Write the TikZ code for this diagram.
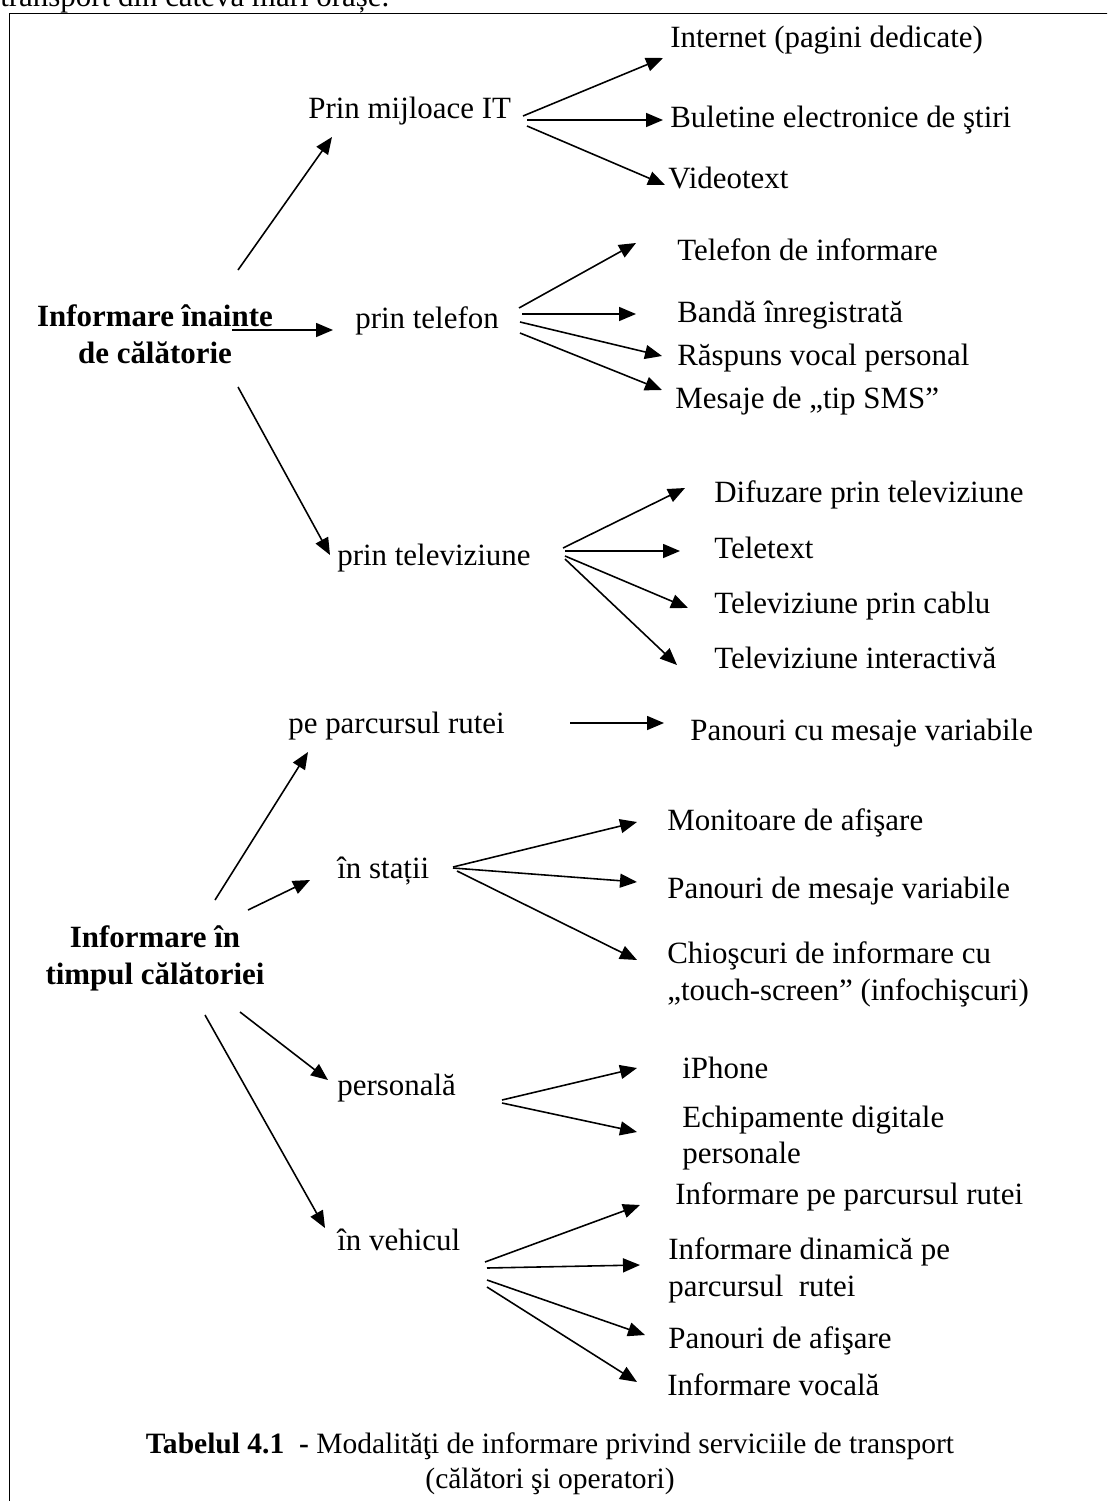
\documentclass[tikz,border=0pt]{standalone}
\usepackage{fontspec}
\setmainfont{Liberation Serif}
\usetikzlibrary{arrows.meta,calc}

\begin{document}
\begin{tikzpicture}[
  x=0.02cm, y=-0.02cm,
  font=\fontsize{17.6}{21}\selectfont,
  txt/.style={inner sep=0pt,anchor=base west},
  txtml/.style={inner sep=0pt,anchor=west,align=left},
  head/.style={inner sep=0pt,align=center,font=\fontsize{17.6}{21}\selectfont\bfseries},
  ar/.style={-{Triangle[length=3.4mm,width=2.8mm]},line width=0.9pt}
]
\useasboundingbox (0,0) rectangle (1107,1501);
\clip (0,0) rectangle (1107,1501);
\node[txt] (prev) at (0,7) {transport din câteva mari orașe.};
\draw[line width=1.1pt] (9.5,1520) -- (9.5,13.5) -- (1120,13.5);

% informare inainte de calatorie
\node[head] (pre) at (155,334) {Informare înainte\\de călătorie};
\node[txt] (it) at (308,118) {Prin mijloace IT};
\node[txt] (tel) at (355,328) {prin telefon};
\node[txt] (tv) at (337,565) {prin televiziune};

\node[txt] (inet) at (670,48) {Internet (pagini dedicate)};
\node[txt] (bul) at (670,127) {Buletine electronice de ştiri};
\node[txt] (vtx) at (668,188) {Videotext};

\node[txt] (tinf) at (677,260) {Telefon de informare};
\node[txt] (banda) at (677,322) {Bandă înregistrată};
\node[txt] (rasp) at (677,365) {Răspuns vocal personal};
\node[txt] (sms) at (675,408) {Mesaje de „tip SMS”};

\node[txt] (dif) at (714,502) {Difuzare prin televiziune};
\node[txt] (ttx) at (714,558) {Teletext};
\node[txt] (cab) at (714,613) {Televiziune prin cablu};
\node[txt] (intv) at (714,668) {Televiziune interactivă};

\draw[ar] ($(pre)+(83,-64)$) -- ($(it.base west)+(24,19)$);
\draw[ar] ($(pre)+(77,-4)$) -- ($(tel.base west)+(-22,2)$);
\draw[ar] ($(pre)+(83,53)$) -- ($(tv.base west)+(-7,-10)$);

\draw[ar] ($(it.base west)+(215,-2)$) -- ($(inet.base west)+(-7,10)$);
\draw[ar] ($(it.base west)+(219,2)$) -- ($(bul.base west)+(-7,-7)$);
\draw[ar] ($(it.base west)+(219,8)$) -- ($(vtx.base west)+(-3,-3)$);

\draw[ar] ($(tel.base west)+(164,-20)$) -- ($(tinf.base west)+(-41,-17)$);
\draw[ar] ($(tel.base west)+(167,-14)$) -- ($(banda.base west)+(-41,-8)$);
\draw[ar] ($(tel.base west)+(165,-6)$) -- ($(rasp.base west)+(-15,-9)$);
\draw[ar] ($(tel.base west)+(165,5)$) -- ($(sms.base west)+(-13,-18)$);

\draw[ar] ($(tv.base west)+(226,-17)$) -- ($(dif.base west)+(-29,-14)$);
\draw[ar] ($(tv.base west)+(228,-14)$) -- ($(ttx.base west)+(-34,-7)$);
\draw[ar] ($(tv.base west)+(228,-9)$) -- ($(cab.base west)+(-26,-5)$);
\draw[ar] ($(tv.base west)+(228,-6)$) -- ($(intv.base west)+(-37,-3)$);

% informare in timpul calatoriei
\node[head] (dur) at (155,958) {Informare în\\timpul călătoriei};
\node[txt] (rute) at (288,733) {pe parcursul rutei};
\node[txt] (sta) at (337,878) {în stații};
\node[txt] (pers) at (337,1095) {personală};
\node[txt] (veh) at (337,1250) {în vehicul};

\node[txt] (pan) at (690,740) {Panouri cu mesaje variabile};

\node[txt] (mon) at (667,830) {Monitoare de afişare};
\node[txt] (pmv) at (667,898) {Panouri de mesaje variabile};
\node[txtml] (chi) at (667,974) {Chioşcuri de informare cu\\„touch-screen” (infochişcuri)};

\node[txt] (iph) at (682,1078) {iPhone};
\node[txtml] (ech) at (682,1138) {Echipamente digitale\\personale};

\node[txt] (vpr) at (675,1204) {Informare pe parcursul rutei};
\node[txtml] (vdin) at (668,1270) {Informare dinamică pe\\parcursul\ \ rutei};
\node[txt] (vpa) at (668,1348) {Panouri de afişare};
\node[txt] (vvoc) at (667,1395) {Informare vocală};

\draw[ar] ($(dur)+(60,-58)$) -- ($(rute.base west)+(20,19)$);
\draw[ar] ($(dur)+(93,-48)$) -- ($(sta.base west)+(-27,2)$);
\draw[ar] ($(dur)+(85,54)$) -- ($(pers.base west)+(-9,-15)$);
\draw[ar] ($(dur)+(50,57)$) -- ($(veh.base west)+(-12,-22)$);

\draw[ar] ($(rute.base west)+(282,-10)$) -- ($(pan.base west)+(-26,-17)$);

\draw[ar] ($(sta.base west)+(116,-11)$) -- ($(mon.base west)+(-30,-8)$);
\draw[ar] ($(sta.base west)+(116,-10)$) -- ($(pmv.base west)+(-30,-16)$);
\draw[ar] ($(sta.base west)+(120,-7)$) -- ($(chi.west)+(-30,-14)$);

\draw[ar] ($(pers.base west)+(165,5)$) -- ($(iph.base west)+(-45,-10)$);
\draw[ar] ($(pers.base west)+(165,8)$) -- ($(ech.west)+(-45,-6)$);

\draw[ar] ($(veh.base west)+(148,12)$) -- ($(vpr.base west)+(-35,1)$);
\draw[ar] ($(veh.base west)+(150,18)$) -- ($(vdin.west)+(-28,-5)$);
\draw[ar] ($(veh.base west)+(150,30)$) -- ($(vpa.base west)+(-23,-13)$);
\draw[ar] ($(veh.base west)+(150,37)$) -- ($(vvoc.base west)+(-30,-13)$);

% caption
\node[head,font=\fontsize{16.8}{20}\selectfont] (cap) at (550,1464) {\textbf{Tabelul 4.1\ \ -} Modalităţi de informare privind serviciile de transport\\(călători şi operatori)};
\end{tikzpicture}
\end{document}
